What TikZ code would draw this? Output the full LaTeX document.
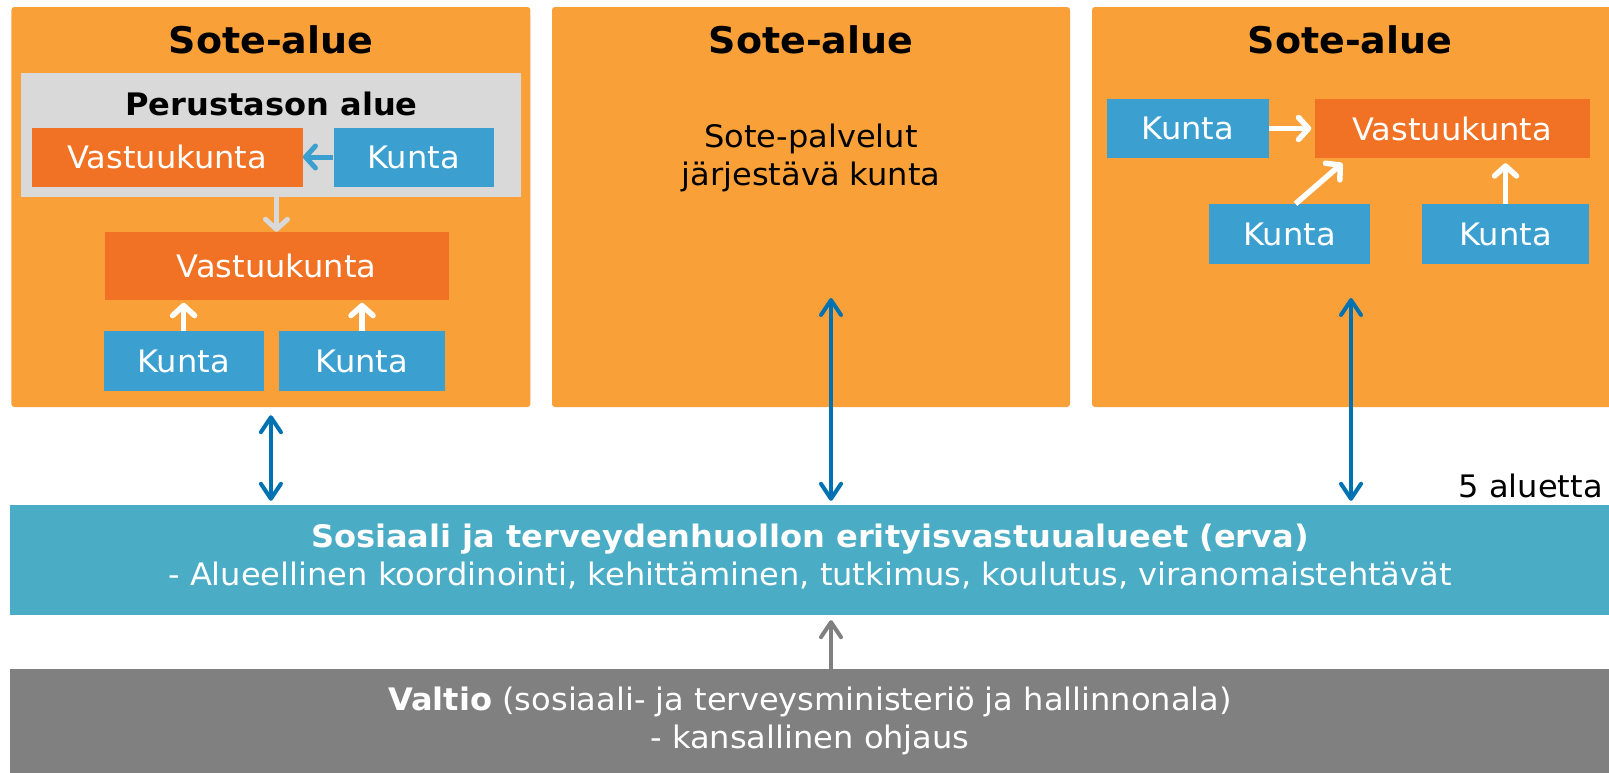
\documentclass[tikz,border=0pt]{standalone}
\usepackage{fontspec}
\setmainfont{DejaVu Sans}[FakeStretch=1.035]
\usetikzlibrary{arrows.meta,calc}
\definecolor{soteor}{RGB}{249,160,57}
\definecolor{vastor}{RGB}{241,114,36}
\definecolor{kuntab}{RGB}{59,160,208}
\definecolor{ervat}{RGB}{75,172,198}
\definecolor{valtiog}{RGB}{128,128,128}
\definecolor{lgrey}{RGB}{217,217,217}
\definecolor{darrow}{RGB}{0,114,178}
\begin{document}
\begin{tikzpicture}[x=1pt,y=-1pt,
  region/.style={fill=soteor, rounded corners=3pt, inner sep=0pt},
  vastuu/.style={fill=vastor, text=white, inner sep=0pt, font=\fontsize{31}{38}\selectfont},
  kuntabox/.style={fill=kuntab, text=white, inner sep=0pt, font=\fontsize{31}{38}\selectfont},
  ttl/.style={font=\bfseries\fontsize{36.7}{43}\selectfont, inner sep=0pt, anchor=base},
  plain/.style={font=\fontsize{31}{38}\selectfont, inner sep=0pt},
  wline/.style={draw=white, line width=5.5pt, -{Straight Barb[length=10pt,width=22pt,round]}},
  lbline/.style={draw=kuntab, line width=5pt, -{Straight Barb[length=10pt,width=22pt,round]}},
  lgline/.style={draw=lgrey, line width=5pt, -{Straight Barb[length=10pt,width=22pt,round]}},
  bline/.style={draw=darrow, line width=4pt, {Straight Barb[length=15pt,width=20pt,round]}-{Straight Barb[length=15pt,width=20pt,round]}},
  gline/.style={draw=valtiog, line width=4pt, -{Straight Barb[length=15pt,width=20pt,round]}}
]
\useasboundingbox (0,0) rectangle (1609,772);
\fill[white] (0,0) rectangle (1609,772);

% regions
\node[region, minimum width=519, minimum height=400] (b1) at (270.9,207) {};
\node[region, minimum width=518, minimum height=400] (b2) at (811,207) {};
\node[region, minimum width=520, minimum height=400] (b3) at (1352,207) {};

\node[ttl] (t1) at (271,53) {Sote-alue};
\node[ttl] (t2) at (811,53) {Sote-alue};
\node[ttl] (t3) at (1350,53) {Sote-alue};

% box 1
\node[fill=lgrey, inner sep=0pt, minimum width=500, minimum height=124] (pa) at (271.25,135) {};
\node[font=\bfseries\fontsize{31}{38}\selectfont, inner sep=0pt, anchor=base] (pat) at (271.5,115) {Perustason alue};
\node[vastuu, minimum width=271, minimum height=59] (v1) at (167.25,157) {Vastuukunta};
\node[kuntabox, minimum width=160, minimum height=59] (k1) at (413.5,157) {Kunta};
\node[vastuu, minimum width=344, minimum height=67.6] (v2) at (276.5,265.8) {Vastuukunta};
\node[kuntabox, minimum width=160, minimum height=59.6] (k2) at (183.6,361.2) {Kunta};
\node[kuntabox, minimum width=166, minimum height=59.6] (k3) at (362,361.2) {Kunta};

\draw[lbline] (k1.west) -- (v1.east);
\draw[lgline] (v2.north |- v1.south) -- (v2.north);
\draw[wline] (k2.north) -- ($(k2.north |- v2.south)+(0,3)$);
\draw[wline] (k3.north) -- ($(k3.north |- v2.south)+(0,3)$);

% box 2
\node[plain, align=center, anchor=north] (sp) at (811,123.4) {Sote-palvelut\\järjestävä kunta};

% box 3
\node[kuntabox, minimum width=162, minimum height=59] (k4) at (1188,128.5) {Kunta};
\node[vastuu, minimum width=275.5, minimum height=59] (v3) at (1452.25,128.5) {Vastuukunta};
\node[kuntabox, minimum width=161, minimum height=60] (k5) at (1289.5,234) {Kunta};
\node[kuntabox, minimum width=167, minimum height=60] (k6) at (1505.5,234) {Kunta};

\draw[wline] (k4.east) -- ($(v3.west)+(-3,0)$);
\draw[wline] ($(k5.north)+(6,0)$) -- ($(v3.south west)+(28,5)$);
\draw[wline] (k6.north) -- ($(k6.north |- v3.south)+(0,5)$);

% erva and valtio
\node[fill=ervat, inner sep=0pt, minimum width=1599, minimum height=110] (erva) at (809.5,560) {};
\node[plain, text=white, align=center, anchor=north] (ervat) at (810,523.4)
  {\textbf{Sosiaali ja terveydenhuollon erityisvastuualueet (erva)}\\- Alueellinen koordinointi, kehittäminen, tutkimus, koulutus, viranomaistehtävät};
\node[fill=valtiog, inner sep=0pt, minimum width=1599, minimum height=104] (valtio) at (809.5,721) {};
\node[plain, text=white, align=center, anchor=north] (valtiot) at (810,686.4)
  {\textbf{Valtio} (sosiaali- ja terveysministeriö ja hallinnonala)\\- kansallinen ohjaus};

\node[plain, anchor=base east] (five) at (1603,497) {5 aluetta};

% connectors
\coordinate (m2) at (831,298);
\coordinate (m3) at (1351,298);
\draw[bline] ($(b1.south)+(0,8)$) -- ($(b1.south |- erva.north)+(0,-4)$);
\draw[bline] (m2) -- ($(m2 |- erva.north)+(0,-4)$);
\draw[bline] (m3) -- ($(m3 |- erva.north)+(0,-4)$);
\draw[gline] (valtio.north -| m2) -- ($(erva.south -| m2)+(0,5)$);
\end{tikzpicture}
\end{document}
